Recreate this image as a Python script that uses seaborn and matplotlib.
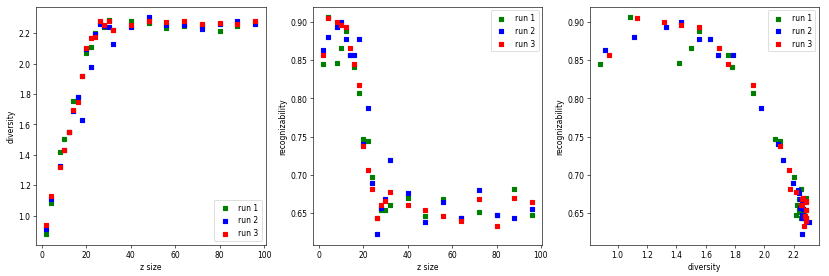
import matplotlib
matplotlib.use("Agg")
import matplotlib.pyplot as plt
import seaborn as sns
import pandas as pd

z_size = [2, 4, 8, 10, 12, 14, 16, 18, 20, 22, 24, 26, 28, 30, 32, 40, 48, 56, 64, 72, 80, 88, 96]

div_run1 = [0.881, 1.085, 1.416, 1.503, 1.551, 1.753, 1.780, 1.921, 2.071, 2.108, 2.200, 2.270,
            2.239, 2.285, 2.220, 2.280, 2.266, 2.235, 2.250, 2.250, 2.215, 2.250, 2.270]
div_run2 = [0.912, 1.110, 1.328, 1.434, 1.551, 1.685, 1.783, 1.626, 2.095, 1.977, 2.196, 2.257,
            2.245, 2.240, 2.127, 2.238, 2.303, 2.256, 2.256, 2.229, 2.258, 2.280, 2.260]
div_run3 = [0.940, 1.131, 1.318, 1.430, 1.551, 1.693, 1.749, 1.920, 2.104, 2.165, 2.176, 2.281,
            2.252, 2.280, 2.218, 2.255, 2.283, 2.276, 2.280, 2.258, 2.268, 2.262, 2.280]

rec_run1 = [0.845, 0.906, 0.846, 0.866, 0.888, 0.857, 0.841, 0.807, 0.747, 0.744, 0.697, 0.644,
            0.654, 0.654, 0.661, 0.670, 0.646, 0.668, 0.643, 0.652, 0.648, 0.682, 0.648]
rec_run2 = [0.864, 0.881, 0.894, 0.900, 0.878, 0.857, 0.857, 0.878, 0.741, 0.787, 0.689, 0.623,
            0.657, 0.669, 0.720, 0.676, 0.638, 0.664, 0.643, 0.680, 0.648, 0.644, 0.655]
rec_run3 = [0.857, 0.905, 0.900, 0.8965, 0.894, 0.866, 0.845, 0.818, 0.738, 0.707, 0.681, 0.643,
            0.660, 0.666, 0.678, 0.660, 0.654, 0.646, 0.640, 0.669, 0.633, 0.670, 0.664]

runs = ["run 1", "run 2", "run 3"]
colors = ["green", "blue", "red"]
divs = [div_run1, div_run2, div_run3]
recs = [rec_run1, rec_run2, rec_run3]

frames = [pd.DataFrame({"z size": z_size, "diversity": d, "recognizability": r})
          for d, r in zip(divs, recs)]

fig, axes = plt.subplots(1, 3, figsize=(15, 5), dpi=55.33)
fig.subplots_adjust(left=0.0434, right=0.9872, top=0.9736, bottom=0.1137, wspace=0.206)

panels = [("z size", "diversity", "lower right"),
          ("z size", "recognizability", "upper right"),
          ("diversity", "recognizability", "upper right")]

for ax, (xv, yv, loc) in zip(axes, panels):
    for df, lab, col in zip(frames, runs, colors):
        sns.scatterplot(data=df, x=xv, y=yv, ax=ax, color=col, marker="s",
                        s=36, linewidth=1.5, edgecolor=col, label=lab)
    ax.legend(loc=loc)
    ax.set_xlabel(xv)
    ax.set_ylabel(yv)

axes[0].set_xticks([0, 20, 40, 60, 80, 100])
axes[1].set_xticks([0, 20, 40, 60, 80, 100])

fig.savefig("out.png", dpi=55.33)
